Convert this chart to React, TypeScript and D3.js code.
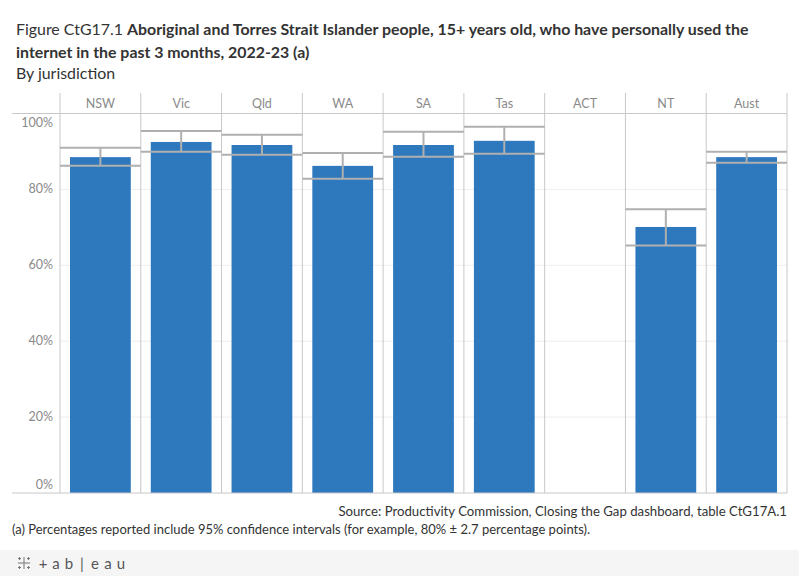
import React, { useEffect, useRef } from 'react';
import * as d3 from 'd3';

// Chart values (percent)
const jurisdictions = ['NSW', 'Vic', 'Qld', 'WA', 'SA', 'Tas', 'ACT', 'NT', 'Aust'];
const values: (number | null)[] = [88.5, 92.5, 91.7, 86.2, 91.7, 92.8, null, 70.1, 88.5];
const lowerCI: (number | null)[] = [86.2, 89.9, 89.1, 82.8, 88.6, 89.4, null, 65.2, 87.0];
const upperCI: (number | null)[] = [91.0, 95.4, 94.4, 89.6, 95.2, 96.5, null, 74.8, 89.9];
const yTicks = [0, 20, 40, 60, 80, 100];
const logoLetters = ['+', 'a', 'b', '|', 'e', 'a', 'u'];

const FONT = 'Lato, "Noto Sans", sans-serif';

const App: React.FC = () => {
  const svgRef = useRef<SVGSVGElement>(null);

  useEffect(() => {
    if (!svgRef.current) return;
    const W = 799;
    const H = 576;
    const svg = d3.select(svgRef.current);
    svg.selectAll('*').remove();
    svg.attr('width', W).attr('height', H).attr('viewBox', `0 0 ${W} ${H}`);

    const left = 60;
    const right = 787;
    const headerTop = 93;
    const top = 113.5;
    const bottom = 493;

    const x = d3.scaleBand<string>().domain(jurisdictions).range([left, right]);
    const y = d3.scaleLinear().domain([0, 100]).range([bottom, top]);

    // Title
    const title = svg.append('text')
      .attr('x', 16).attr('y', 35)
      .style('font-family', FONT).style('font-size', '15.9px').style('fill', '#333');
    title.append('tspan').text('Figure CtG17.1 ');
    title.append('tspan').style('font-weight', 'bold')
      .text('Aboriginal and Torres Strait Islander people, 15+ years old, who have personally used the');
    svg.append('text')
      .attr('x', 16).attr('y', 58)
      .style('font-family', FONT).style('font-size', '15.9px').style('fill', '#333').style('font-weight', 'bold')
      .text('internet in the past 3 months, 2022-23 (a)');
    svg.append('text')
      .attr('x', 16).attr('y', 79)
      .style('font-family', FONT).style('font-size', '15.9px').style('fill', '#333')
      .text('By jurisdiction');

    // Gridlines
    svg.append('g')
      .selectAll('line')
      .data(yTicks.filter(t => t > 0 && t < 100))
      .enter()
      .append('line')
      .attr('x1', left).attr('x2', right)
      .attr('y1', d => y(d)).attr('y2', d => y(d))
      .attr('stroke', '#eeeeee').attr('stroke-width', 1);

    // Y axis labels
    svg.append('g')
      .selectAll('text')
      .data(yTicks)
      .enter()
      .append('text')
      .attr('x', 53)
      .attr('y', d => y(d) + (d === 0 ? -4 : d === 100 ? 13 : 4))
      .attr('text-anchor', 'end')
      .style('font-family', FONT).style('font-size', '12.5px').style('fill', '#8a8a8a')
      .text(d => `${d}%`);

    // Bars
    const barPad = 10;
    svg.append('g')
      .selectAll('rect')
      .data(jurisdictions.map((j, i) => ({ j, v: values[i] })).filter(d => d.v !== null))
      .enter()
      .append('rect')
      .attr('x', d => (x(d.j) as number) + barPad)
      .attr('width', x.bandwidth() - 2 * barPad)
      .attr('y', d => y(d.v as number))
      .attr('height', d => bottom - y(d.v as number))
      .attr('fill', '#2e78bd');

    // Frame: header and pane borders
    const frame = svg.append('g').attr('stroke', '#c8c8c8').attr('stroke-width', 1);
    frame.append('line').attr('x1', 12).attr('x2', right).attr('y1', top).attr('y2', top);
    frame.append('line').attr('x1', 12).attr('x2', right).attr('y1', bottom).attr('y2', bottom);
    frame.selectAll('line.sep')
      .data([...jurisdictions.map(j => x(j) as number), right])
      .enter()
      .append('line')
      .attr('class', 'sep')
      .attr('x1', d => d).attr('x2', d => d)
      .attr('y1', headerTop).attr('y2', bottom);

    // Header labels
    svg.append('g')
      .selectAll('text')
      .data(jurisdictions)
      .enter()
      .append('text')
      .attr('x', d => (x(d) as number) + x.bandwidth() / 2)
      .attr('y', 108)
      .attr('text-anchor', 'middle')
      .style('font-family', FONT).style('font-size', '12.5px').style('fill', '#8a8a8a')
      .text(d => d);

    // Confidence intervals
    const ci = jurisdictions
      .map((j, i) => ({ j, lo: lowerCI[i], hi: upperCI[i] }))
      .filter(d => d.lo !== null && d.hi !== null);
    const eb = svg.append('g').attr('stroke', '#b0b0b0').attr('stroke-width', 2);
    ci.forEach(d => {
      const x0 = x(d.j) as number;
      const cx = x0 + x.bandwidth() / 2;
      eb.append('line').attr('x1', x0).attr('x2', x0 + x.bandwidth())
        .attr('y1', y(d.hi as number)).attr('y2', y(d.hi as number));
      eb.append('line').attr('x1', x0).attr('x2', x0 + x.bandwidth())
        .attr('y1', y(d.lo as number)).attr('y2', y(d.lo as number));
      eb.append('line').attr('x1', cx).attr('x2', cx)
        .attr('y1', y(d.hi as number)).attr('y2', y(d.lo as number));
    });

    // Footer
    svg.append('text')
      .attr('x', right).attr('y', 516)
      .attr('text-anchor', 'end')
      .style('font-family', FONT).style('font-size', '13.2px').style('fill', '#333')
      .text('Source: Productivity Commission, Closing the Gap dashboard, table CtG17A.1');
    svg.append('text')
      .attr('x', 12).attr('y', 534)
      .style('font-family', FONT).style('font-size', '13px').style('fill', '#333')
      .text('(a) Percentages reported include 95% confidence intervals (for example, 80% \u00b1 2.7 percentage points).');

    // Tableau bar
    svg.append('rect').attr('x', 0).attr('y', 550).attr('width', W).attr('height', 26).attr('fill', '#f5f5f5');
    const logo = svg.append('g').attr('stroke', '#777').attr('stroke-width', 1);
    const lx = 24;
    const ly = 563;
    logo.append('line').attr('x1', lx - 6).attr('x2', lx + 6).attr('y1', ly).attr('y2', ly);
    logo.append('line').attr('x1', lx).attr('x2', lx).attr('y1', ly - 6).attr('y2', ly + 6);
    [[-4.5, -4.5], [4.5, -4.5], [-4.5, 4.5], [4.5, 4.5]].forEach(([dx, dy]) => {
      logo.append('line').attr('x1', lx + dx - 1.5).attr('x2', lx + dx + 1.5).attr('y1', ly + dy).attr('y2', ly + dy);
      logo.append('line').attr('x1', lx + dx).attr('x2', lx + dx).attr('y1', ly + dy - 1.5).attr('y2', ly + dy + 1.5);
    });
    svg.append('g')
      .selectAll('text')
      .data(logoLetters)
      .enter()
      .append('text')
      .attr('x', (_d, i) => 43 + i * 13)
      .attr('y', 569)
      .attr('text-anchor', 'middle')
      .style('font-family', FONT).style('font-size', '15px').style('fill', '#555')
      .text(d => d);
  }, []);

  return (
    <div style={{ position: 'absolute', left: 0, top: 0 }}>
      <svg ref={svgRef}></svg>
    </div>
  );
};

export default App;
